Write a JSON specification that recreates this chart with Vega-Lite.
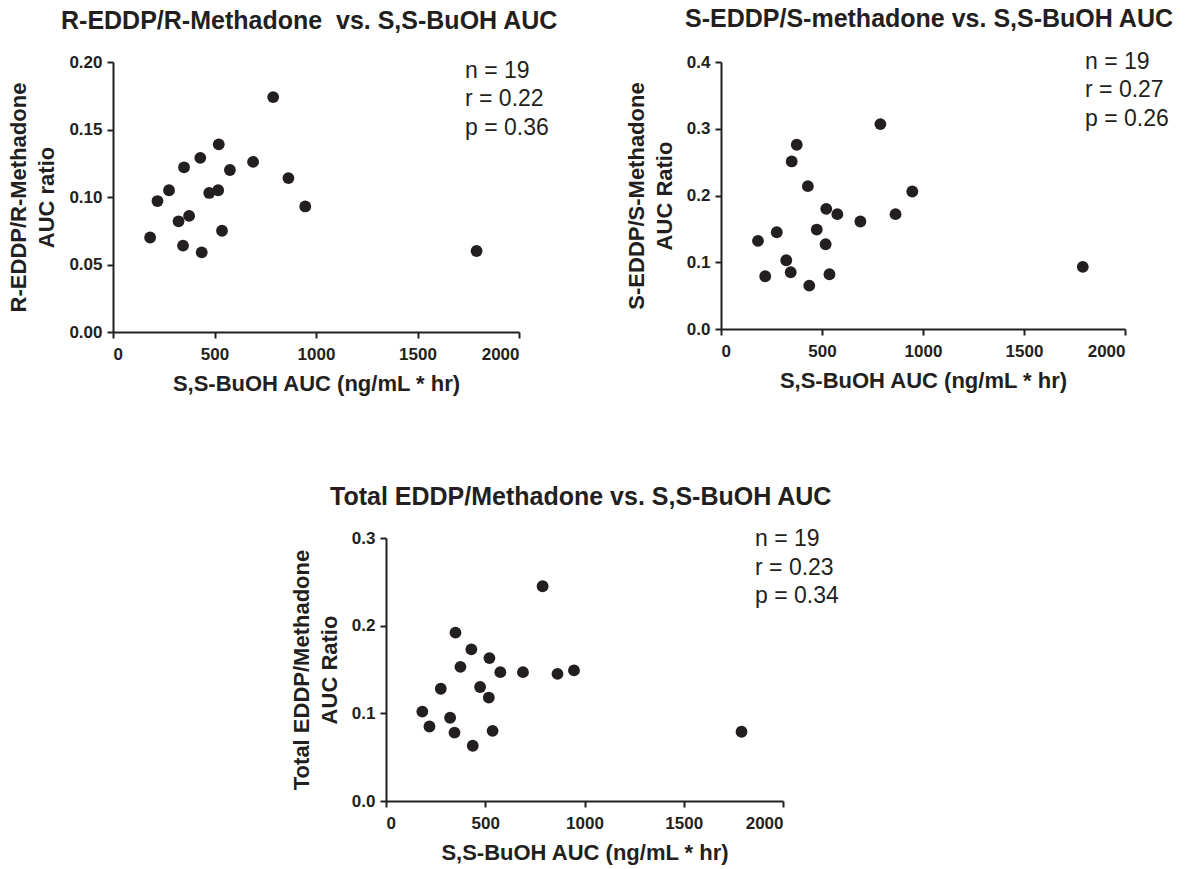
{
  "$schema": "https://vega.github.io/schema/vega-lite/v6.json",
  "background": "white",
  "padding": {"left": 7, "top": 6, "right": 5, "bottom": 2},
  "config": {
    "view": {"stroke": null},
    "font": "Liberation Sans",
    "axis": {
      "domainColor": "#231f20", "domainWidth": 2, "tickColor": "#231f20", "tickWidth": 2, "tickSize": 6,
      "labelFont": "Liberation Sans", "labelFontWeight": "bold", "labelFontSize": 17, "labelColor": "#231f20",
      "titleFont": "Liberation Sans", "titleFontWeight": "bold", "titleFontSize": 22, "titleColor": "#231f20",
      "titleLineHeight": 28, "grid": false
    },
    "axisX": {"labelPadding": 8, "titlePadding": 11, "format": "d"},
    "axisY": {"labelPadding": 5, "titlePadding": 10},
    "title": {"font": "Liberation Sans", "fontSize": 25, "fontWeight": "bold", "color": "#231f20", "anchor": "start", "frame": "group"}
  },
  "datasets": {
    "subjects": [
      {"auc": 183, "r_ratio": 0.070, "s_ratio": 0.132, "total_ratio": 0.102},
      {"auc": 219, "r_ratio": 0.097, "s_ratio": 0.079, "total_ratio": 0.085},
      {"auc": 276, "r_ratio": 0.105, "s_ratio": 0.145, "total_ratio": 0.128},
      {"auc": 323, "r_ratio": 0.082, "s_ratio": 0.103, "total_ratio": 0.095},
      {"auc": 345, "r_ratio": 0.064, "s_ratio": 0.085, "total_ratio": 0.078},
      {"auc": 350, "r_ratio": 0.122, "s_ratio": 0.251, "total_ratio": 0.192},
      {"auc": 375, "r_ratio": 0.086, "s_ratio": 0.276, "total_ratio": 0.153},
      {"auc": 430, "r_ratio": 0.129, "s_ratio": 0.214, "total_ratio": 0.173},
      {"auc": 437, "r_ratio": 0.059, "s_ratio": 0.065, "total_ratio": 0.063},
      {"auc": 474, "r_ratio": 0.103, "s_ratio": 0.149, "total_ratio": 0.130},
      {"auc": 518, "r_ratio": 0.105, "s_ratio": 0.127, "total_ratio": 0.118},
      {"auc": 521, "r_ratio": 0.139, "s_ratio": 0.180, "total_ratio": 0.163},
      {"auc": 537, "r_ratio": 0.075, "s_ratio": 0.082, "total_ratio": 0.080},
      {"auc": 576, "r_ratio": 0.120, "s_ratio": 0.172, "total_ratio": 0.147},
      {"auc": 690, "r_ratio": 0.126, "s_ratio": 0.161, "total_ratio": 0.147},
      {"auc": 789, "r_ratio": 0.174, "s_ratio": 0.307, "total_ratio": 0.245},
      {"auc": 864, "r_ratio": 0.114, "s_ratio": 0.172, "total_ratio": 0.145},
      {"auc": 947, "r_ratio": 0.093, "s_ratio": 0.206, "total_ratio": 0.149},
      {"auc": 1791, "r_ratio": 0.060, "s_ratio": 0.093, "total_ratio": 0.079}
    ]
  },
  "bounds": "full",
  "spacing": 91,
  "vconcat": [
    {
      "bounds": "flush",
      "spacing": 202,
      "hconcat": [
        {
          "width": 406, "height": 270,
          "title": {"text": "R-EDDP/R-Methadone\u00a0 vs. S,S-BuOH AUC", "dx": -52, "offset": 19},
          "layer": [
            {
              "data": {"name": "subjects"},
              "mark": {"type": "circle", "size": 140, "color": "#231f20", "opacity": 1},
              "encoding": {
                "x": {"field": "auc", "type": "quantitative", "scale": {"domain": [0, 2000]},
                      "axis": {"values": [0, 500, 1000, 1500, 2000], "title": "S,S-BuOH AUC (ng/mL * hr)"}},
                "y": {"field": "r_ratio", "type": "quantitative", "scale": {"domain": [0, 0.2]},
                      "axis": {"values": [0, 0.05, 0.1, 0.15, 0.2], "format": ".2f", "title": ["R-EDDP/R-Methadone", "AUC ratio"]}}
              }
            },
            {
              "data": {"values": [{}]},
              "mark": {"type": "text", "text": ["n = 19", "r = 0.22", "p = 0.36"], "align": "left", "baseline": "top", "fontSize": 23, "lineHeight": 28.5, "font": "Liberation Sans", "color": "#231f20"},
              "encoding": {"x": {"datum": 1734, "type": "quantitative"}, "y": {"datum": 0.2015, "type": "quantitative"}}
            }
          ]
        },
        {
          "width": 404, "height": 267,
          "title": {"text": "S-EDDP/S-methadone vs. S,S-BuOH AUC", "dx": -36, "offset": 19},
          "layer": [
            {
              "data": {"name": "subjects"},
              "mark": {"type": "circle", "size": 140, "color": "#231f20", "opacity": 1},
              "encoding": {
                "x": {"field": "auc", "type": "quantitative", "scale": {"domain": [0, 2000]},
                      "axis": {"values": [0, 500, 1000, 1500, 2000], "title": "S,S-BuOH AUC (ng/mL * hr)"}},
                "y": {"field": "s_ratio", "type": "quantitative", "scale": {"domain": [0, 0.4]},
                      "axis": {"values": [0, 0.1, 0.2, 0.3, 0.4], "format": ".1f", "title": ["S-EDDP/S-Methadone", "AUC Ratio"]}}
              }
            },
            {
              "data": {"values": [{}]},
              "mark": {"type": "text", "text": ["n = 19", "r = 0.27", "p = 0.26"], "align": "left", "baseline": "top", "fontSize": 23, "lineHeight": 28.5, "font": "Liberation Sans", "color": "#231f20"},
              "encoding": {"x": {"datum": 1802, "type": "quantitative"}, "y": {"datum": 0.4165, "type": "quantitative"}}
            }
          ]
        }
      ]
    },
    {
      "bounds": "flush",
      "spacing": 272,
      "hconcat": [
        {
          "width": 1, "height": 1,
          "data": {"values": [{}]},
          "mark": {"type": "point", "opacity": 0},
          "encoding": {}
        },
        {
          "width": 397, "height": 263,
          "title": {"text": "Total EDDP/Methadone vs. S,S-BuOH AUC", "dx": -56, "offset": 18},
          "layer": [
            {
              "data": {"name": "subjects"},
              "mark": {"type": "circle", "size": 140, "color": "#231f20", "opacity": 1},
              "encoding": {
                "x": {"field": "auc", "type": "quantitative", "scale": {"domain": [0, 2000]},
                      "axis": {"values": [0, 500, 1000, 1500, 2000], "title": "S,S-BuOH AUC (ng/mL * hr)"}},
                "y": {"field": "total_ratio", "type": "quantitative", "scale": {"domain": [0, 0.3]},
                      "axis": {"values": [0, 0.1, 0.2, 0.3], "format": ".1f", "title": ["Total EDDP/Methadone", "AUC Ratio"]}}
              }
            },
            {
              "data": {"values": [{}]},
              "mark": {"type": "text", "text": ["n = 19", "r = 0.23", "p = 0.34"], "align": "left", "baseline": "top", "fontSize": 23, "lineHeight": 28.5, "font": "Liberation Sans", "color": "#231f20"},
              "encoding": {"x": {"datum": 1859, "type": "quantitative"}, "y": {"datum": 0.3114, "type": "quantitative"}}
            }
          ]
        }
      ]
    }
  ]
}
